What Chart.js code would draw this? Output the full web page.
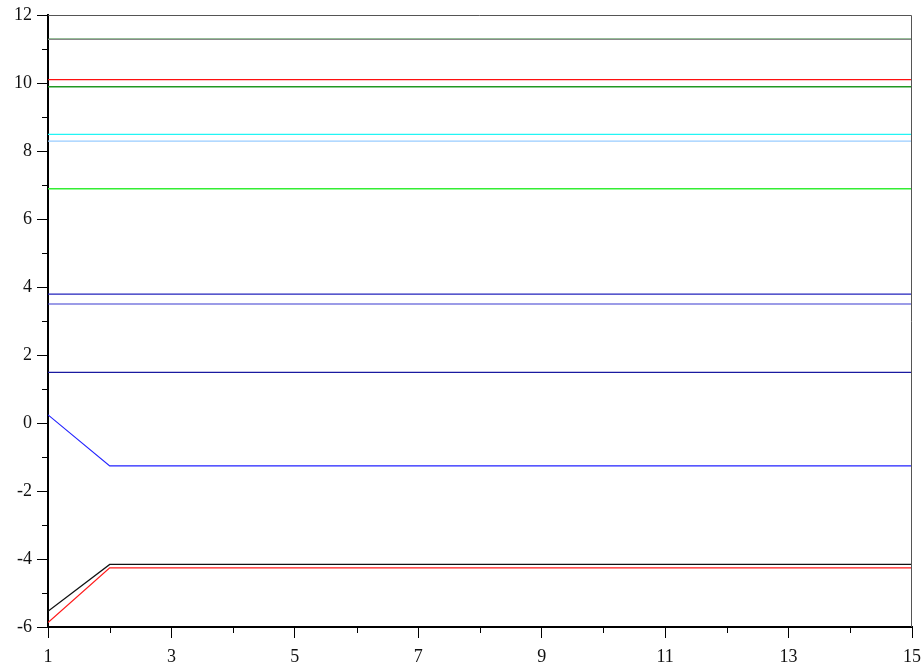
<!DOCTYPE html>
<html>
<head>
<meta charset="utf-8">
<script src="https://cdn.jsdelivr.net/npm/chart.js@4"></script>
<style>
  html, body { margin: 0; padding: 0; background: #fff; }
  #wrap { width: 924px; height: 668px; }
</style>
</head>
<body>
<div id="wrap"><canvas id="canvas"></canvas></div>
<script>
// x values (iterations)
var steps = [1, 2, 3, 4, 5, 6, 7, 8, 9, 10, 11, 12, 13, 14, 15];

// each series: first value, then flat value from step 2 on
var sGray    = [11.28, 11.28];
var sGreen1  = [11.29, 11.29];
var sRed1    = [10.10, 10.10];
var sGreen2  = [9.89, 9.89];
var sCyan    = [8.49, 8.49];
var sLight   = [8.29, 8.29];
var sGreen3  = [6.89, 6.89];
var sBlue1   = [3.79, 3.79];
var sBlue2   = [3.50, 3.50];
var sBlue3   = [1.49, 1.49];
var sBlue4   = [0.24, -1.26];
var sBlack   = [-5.54, -4.16];
var sRed2    = [-5.87, -4.26];

var yTicks = [-6, -4, -2, 0, 2, 4, 6, 8, 10, 12];
var xTicks = [1, 3, 5, 7, 9, 11, 13, 15];

function expand(pair) {
	return steps.map(function(x) {
		return { x: x, y: x == 1 ? pair[0] : pair[1] };
	});
}

function ds(pair, color, width) {
	return {
		data: expand(pair),
		borderColor: color,
		borderWidth: width || 1.2,
		pointRadius: 0,
		tension: 0,
		fill: false
	};
}

// short ticks at the unlabelled positions + gray frame on top/right
var extras = {
	id: 'extras',
	afterDraw: function(chart) {
		var c = chart.ctx, a = chart.chartArea;
		var xs = chart.scales.x, ys = chart.scales.y;
		c.save();
		c.strokeStyle = '#000';
		c.lineWidth = 1;
		c.beginPath();
		for (var v = 2; v < 15; v += 2) {
			var px = Math.round(xs.getPixelForValue(v)) + 0.5;
			c.moveTo(px, a.bottom);
			c.lineTo(px, a.bottom + 6);
		}
		for (var w = -5; w < 12; w += 2) {
			var py = Math.round(ys.getPixelForValue(w)) + 0.5;
			c.moveTo(a.left, py);
			c.lineTo(a.left - 6, py);
		}
		c.stroke();
		c.strokeStyle = '#555';
		c.beginPath();
		c.moveTo(a.left, a.top + 0.5);
		c.lineTo(a.right - 0.5, a.top + 0.5);
		c.lineTo(a.right - 0.5, a.bottom);
		c.stroke();
		c.restore();
	}
};

var ctx = document.getElementById('canvas').getContext('2d');
var chart = new Chart(ctx, {
	type: 'line',
	data: {
		datasets: [
			ds(sGray, '#888888'),
			ds(sGreen1, '#2e7d32'),
			ds(sRed1, '#ff1010', 1.4),
			ds(sGreen2, '#229922', 1.3),
			ds(sCyan, '#22f5f5', 1.4),
			ds(sLight, '#99ccff'),
			ds(sGreen3, '#33ee33', 1.4),
			ds(sBlue1, '#2222bb'),
			ds(sBlue2, '#3a3ad0'),
			ds(sBlue3, '#1a1aa0'),
			ds(sBlue4, '#2222ff'),
			ds(sBlack, '#111111'),
			ds(sRed2, '#ff1a1a', 1.3)
		]
	},
	options: {
		responsive: true,
		maintainAspectRatio: false,
		animation: false,
		layout: { padding: { top: 15, right: 12, left: 0, bottom: 0 } },
		plugins: {
			legend: { display: false },
			tooltip: { enabled: false }
		},
		scales: {
			x: {
				type: 'linear',
				min: 1,
				max: 15,
				afterBuildTicks: function(scale) {
					scale.ticks = xTicks.map(function(v) { return { value: v }; });
				},
				afterFit: function(scale) {
					scale.height = 41;
					scale.paddingLeft = 0;
					scale.paddingRight = 0;
				},
				border: { display: true, color: '#000', width: 2 },
				grid: {
					drawOnChartArea: false,
					drawTicks: true,
					tickLength: 11,
					tickColor: '#000'
				},
				ticks: {
					color: '#111',
					padding: 8,
					maxRotation: 0,
					font: { family: '"Liberation Serif", "Times New Roman", serif', size: 18 }
				}
			},
			y: {
				type: 'linear',
				min: -6,
				max: 12,
				afterBuildTicks: function(scale) {
					scale.ticks = yTicks.map(function(v) { return { value: v }; });
				},
				afterFit: function(scale) {
					scale.width = 48;
					scale.paddingTop = 0;
					scale.paddingBottom = 0;
				},
				border: { display: true, color: '#000', width: 2 },
				grid: {
					drawOnChartArea: false,
					drawTicks: true,
					tickLength: 11,
					tickColor: '#000'
				},
				ticks: {
					color: '#111',
					padding: 5,
					font: { family: '"Liberation Serif", "Times New Roman", serif', size: 18 }
				}
			}
		}
	},
	plugins: [extras]
});
</script>
</body>
</html>
